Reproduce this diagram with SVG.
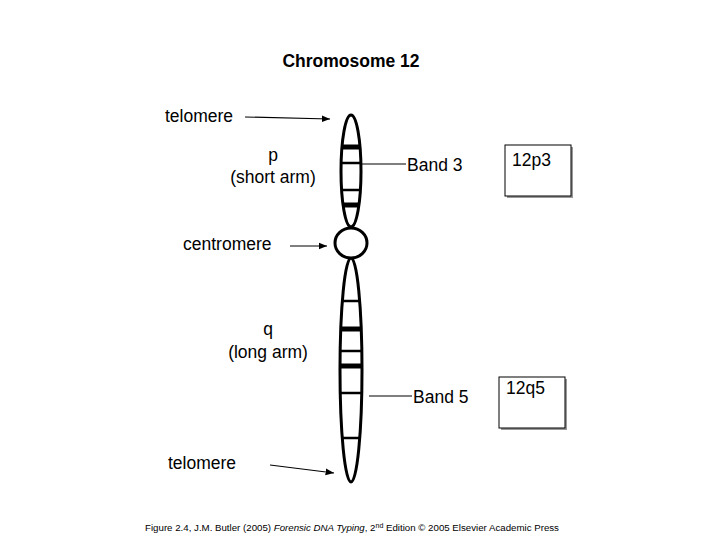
<svg xmlns="http://www.w3.org/2000/svg" width="720" height="540" viewBox="0 0 720 540">
<style>
text{font-family:"Liberation Sans",Arial,sans-serif;font-size:17.5px;fill:#000}
.c{stroke:#000;stroke-width:3;fill:#fff}
.b{stroke:#000;stroke-width:2.5}
.bt{stroke:#000;stroke-width:5}
.l{stroke:#000;stroke-width:1.2;fill:none}
</style>
<defs><marker id="a" viewBox="0 0 10 10" refX="10" refY="5" markerWidth="7" markerHeight="7" orient="auto"><path d="M0,1L10,5L0,9z" fill="#000"/></marker></defs>
<rect width="720" height="540" fill="#fff"/>
<text x="351" y="67" text-anchor="middle" font-weight="bold">Chromosome 12</text>
<g id="chromosome">
<ellipse class="c" cx="351" cy="171" rx="10" ry="56"/>
<ellipse class="c" cx="351" cy="370" rx="11" ry="112"/>
<ellipse class="c" cx="351" cy="243" rx="16" ry="15"/>
<line class="bt" x1="342" y1="147" x2="360" y2="147"/>
<line class="b" x1="341" y1="163" x2="361" y2="163"/>
<line class="b" x1="341" y1="190" x2="361" y2="190"/>
<line class="bt" x1="342" y1="205" x2="360" y2="205"/>
<line class="b" x1="341" y1="301" x2="361" y2="301"/>
<line class="bt" x1="341" y1="329" x2="362" y2="329"/>
<line class="b" x1="341" y1="351" x2="362" y2="351"/>
<line class="bt" x1="341" y1="366" x2="362" y2="366"/>
<line class="b" x1="341" y1="393" x2="362" y2="393"/>
<line class="b" x1="342" y1="438" x2="361" y2="438"/>
</g>
<g id="connectors">
<line class="l" x1="245" y1="117" x2="330" y2="119" marker-end="url(#a)"/>
<line class="l" x1="290" y1="246" x2="327" y2="246" marker-end="url(#a)"/>
<line class="l" x1="270" y1="465" x2="334" y2="473" marker-end="url(#a)"/>
<line class="l" x1="361" y1="164" x2="406" y2="164"/>
<line class="l" x1="369" y1="396" x2="412" y2="396"/>
</g>
<g id="labels">
<text x="165" y="122">telomere</text>
<text x="273" y="161" text-anchor="middle">p</text>
<text x="273" y="183" text-anchor="middle">(short arm)</text>
<text x="183" y="250">centromere</text>
<text x="268" y="335" text-anchor="middle">q</text>
<text x="268" y="358" text-anchor="middle">(long arm)</text>
<text x="168" y="469">telomere</text>
<text x="407" y="171">Band 3</text>
<text x="413" y="403">Band 5</text>
</g>
<g id="box1">
<rect x="507" y="147" width="66" height="51" fill="#999"/>
<rect x="505" y="145" width="66" height="51" fill="#fff" stroke="#000"/>
<text x="512" y="166">12p3</text>
</g>
<g id="box2">
<rect x="501" y="379" width="66" height="51" fill="#999"/>
<rect x="499" y="377" width="66" height="51" fill="#fff" stroke="#000"/>
<text x="506" y="394">12q5</text>
</g>
<text x="352" y="531" text-anchor="middle" style="font-size:9.7px">Figure 2.4, J.M. Butler (2005) <tspan font-style="italic">Forensic DNA Typing</tspan>, 2<tspan style="font-size:7px" dy="-3">nd</tspan><tspan dy="3"> Edition © 2005 Elsevier Academic Press</tspan></text>
</svg>
